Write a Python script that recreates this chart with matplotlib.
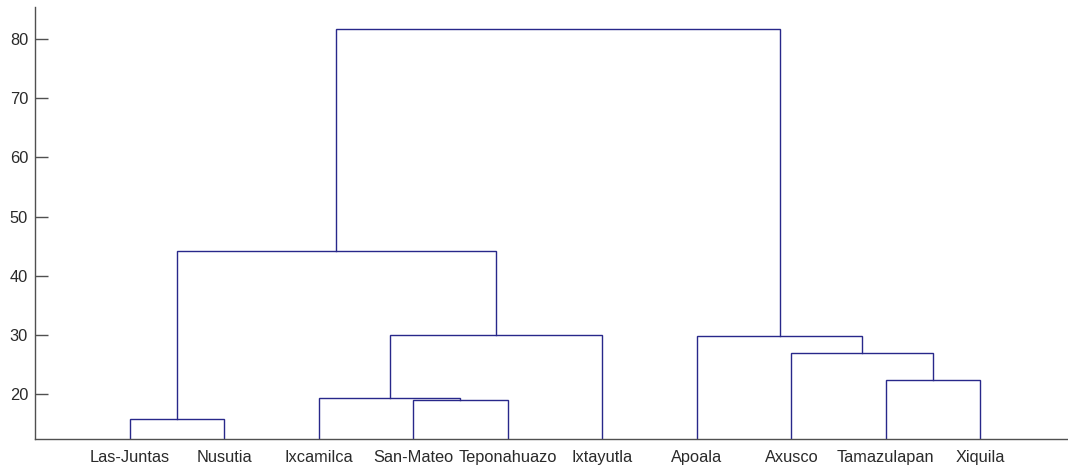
import matplotlib.pyplot as plt

# Sitios (hojas) en el orden del dendrograma
labels = ['Las-Juntas', 'Nusutia', 'Ixcamilca', 'San-Mateo', 'Teponahuazo',
          'Ixtayutla', 'Apoala', 'Axusco', 'Tamazulapan', 'Xiquila']

# Uniones: (nodo izquierdo, nodo derecho, altura); los nodos nuevos se numeran desde 10
merge_left = [0, 3, 2, 8, 7, 6, 12, 10, 17]
merge_right = [1, 4, 11, 9, 13, 14, 5, 16, 15]
merge_height = [15.8, 19.0, 19.45, 22.35, 26.9, 29.9, 30.0, 44.25, 81.7]

yticks = [20, 30, 40, 50, 60, 70, 80]

line_color = '#28288a'
axis_color = '#505050'

fig = plt.figure(figsize=(10.68, 4.69), dpi=100)
ax = fig.add_axes([35 / 1068, 30 / 469, 1040 / 1068, 432 / 469])

# posiciones y alturas de cada nodo
xpos = {i: i + 1 for i in range(len(labels))}
ypos = {i: 0.0 for i in range(len(labels))}
n = len(labels)
for k, (a, b, h) in enumerate(zip(merge_left, merge_right, merge_height)):
    xa, xb = xpos[a], xpos[b]
    ax.plot([xa, xa, xb, xb], [ypos[a], h, h, ypos[b]],
            color=line_color, lw=1.0, solid_joinstyle='miter')
    xpos[n + k] = (xa + xb) / 2
    ypos[n + k] = h

ax.set_xlim(0, 11)
ax.set_ylim(12.45, 85.4)
ax.set_xticks(range(1, n + 1))
ax.set_xticklabels(labels)
ax.set_yticks(yticks)

for side in ['top', 'right']:
    ax.spines[side].set_visible(False)
for side in ['left', 'bottom']:
    ax.spines[side].set_color(axis_color)
    ax.spines[side].set_linewidth(1.0)

ax.tick_params(axis='y', direction='in', length=9, width=1.0,
               color=axis_color, labelsize=11.8, pad=5)
ax.tick_params(axis='x', length=0, labelsize=11.8, pad=8)
for t in ax.get_xticklabels() + ax.get_yticklabels():
    t.set_fontfamily('Liberation Sans')
    t.set_color('#2a2a2a')

fig.savefig('out.png', dpi=100)
